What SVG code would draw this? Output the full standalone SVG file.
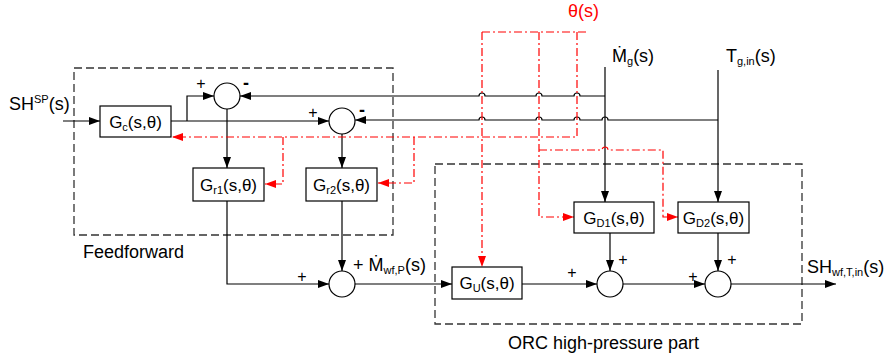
<svg xmlns="http://www.w3.org/2000/svg" width="895" height="362" viewBox="0 0 895 362">
<defs>
<marker id="ab" markerUnits="userSpaceOnUse" markerWidth="12" markerHeight="10" refX="11" refY="5" orient="auto"><path d="M0,1 L11,5 L0,9 Z" fill="#000"/></marker>
<marker id="ar" markerUnits="userSpaceOnUse" markerWidth="12" markerHeight="10" refX="11" refY="5" orient="auto"><path d="M0,1 L11,5 L0,9 Z" fill="#ff0000"/></marker>
<style>
text{font-family:"Liberation Sans",Arial,sans-serif;font-size:18px;fill:#000}
.box{fill:#fff;stroke:#000;stroke-width:1.2}
.sum{fill:#fff;stroke:#000;stroke-width:1.2}
.ln{fill:none;stroke:#000;stroke-width:1.2}
.arr{marker-end:url(#ab)}
.red{fill:none;stroke:#ff0000;stroke-width:1.2;stroke-dasharray:8,3,2,3}
.rarr{marker-end:url(#ar)}
.grp{fill:none;stroke:#333;stroke-width:1.3;stroke-dasharray:8,4}
.sign{font-size:16px;text-anchor:middle;dominant-baseline:central}
.minus{font-size:18px;font-weight:bold;text-anchor:middle;dominant-baseline:central}
.lbl{text-anchor:middle;font-size:17px}
.sub{font-size:11px}
</style>
</defs>

<g id="groups">
<rect id="feedforward" class="grp" x="74" y="68" width="319" height="167"/>
<rect id="orc" class="grp" x="435" y="164" width="367" height="160"/>
<text x="83" y="258">Feedforward</text>
<text x="508" y="349">ORC high-pressure part</text>
</g>

<g id="connectors">
<path class="ln arr" d="M63,121 H100"/>
<path class="ln arr" d="M171,121 H329"/>
<path class="ln arr" d="M187,121 V96 H214"/>
<path class="ln arr" d="M605,96 H580 A3,3 0 0 0 574,96 H542 A3,3 0 0 0 536,96 H485 A3,3 0 0 0 479,96 H240"/>
<path class="ln arr" d="M718,120 H608 A3,3 0 0 0 602,120 H580 A3,3 0 0 0 574,120 H542 A3,3 0 0 0 536,120 H485 A3,3 0 0 0 479,120 H355"/>
<path class="ln arr" d="M227,109 V168"/>
<path class="ln arr" d="M342,134 V168"/>
<path class="ln arr" d="M227,201 V284 H329"/>
<path class="ln arr" d="M342,201 V271"/>
<path class="ln arr" d="M355,284 H452"/>
<path class="ln arr" d="M522,284 H597"/>
<path class="ln arr" d="M623,284 H705"/>
<path class="ln arr" d="M731,284 H836"/>
<path class="ln arr" d="M605,67 V202"/>
<path class="ln arr" d="M610,233 V271"/>
<path class="ln arr" d="M718,70 V202"/>
<path class="ln arr" d="M718,233 V271"/>

<path class="red" d="M482,32 H588"/>
<path class="red rarr" d="M482,32 V267"/>
<path class="red rarr" d="M539,32 V217 H574"/>
<path class="red rarr" d="M577,32 V137 H172"/>
<path class="red rarr" d="M539,150 H602 A3,3 0 0 1 608,150 H663 V217 H678"/>
<path class="red rarr" d="M283,137 V184 H265"/>
<path class="red rarr" d="M414,137 V183 H378"/>
</g>

<g id="Gc"><rect class="box" x="100" y="106" width="71" height="31"/><text class="lbl" x="135.5" y="128">G<tspan class="sub" dy="3">c</tspan><tspan dy="-3">(s,θ)</tspan></text></g>
<g id="Gr1"><rect class="box" x="193" y="168" width="71" height="33"/><text class="lbl" x="228.5" y="191">G<tspan class="sub" dy="3">r1</tspan><tspan dy="-3">(s,θ)</tspan></text></g>
<g id="Gr2"><rect class="box" x="306" y="168" width="71" height="33"/><text class="lbl" x="341.5" y="191">G<tspan class="sub" dy="3">r2</tspan><tspan dy="-3">(s,θ)</tspan></text></g>
<g id="GU"><rect class="box" x="452" y="267" width="70" height="32"/><text class="lbl" x="487" y="289">G<tspan class="sub" dy="3">U</tspan><tspan dy="-3">(s,θ)</tspan></text></g>
<g id="GD1"><rect class="box" x="574" y="202" width="80" height="31"/><text class="lbl" x="614" y="224">G<tspan class="sub" dy="3">D1</tspan><tspan dy="-3">(s,θ)</tspan></text></g>
<g id="GD2"><rect class="box" x="678" y="202" width="71" height="31"/><text class="lbl" x="713.5" y="224">G<tspan class="sub" dy="3">D2</tspan><tspan dy="-3">(s,θ)</tspan></text></g>

<g id="sum1"><circle class="sum" cx="227" cy="96" r="13"/><text class="sign" x="201" y="83">+</text><text class="minus" x="246" y="83">-</text></g>
<g id="sum2"><circle class="sum" cx="342" cy="121" r="13"/><text class="sign" x="313" y="112">+</text><text class="minus" x="362" y="110">-</text></g>
<g id="sum3"><circle class="sum" cx="342" cy="284" r="13"/><text class="sign" x="302" y="276">+</text></g>
<g id="sum4"><circle class="sum" cx="610" cy="284" r="13"/><text class="sign" x="572" y="272">+</text><text class="sign" x="623" y="259">+</text></g>
<g id="sum5"><circle class="sum" cx="718" cy="284" r="13"/><text class="sign" x="693" y="276">+</text><text class="sign" x="732" y="259">+</text></g>

<g id="labels">
<text x="9" y="110">SH<tspan class="sub" dy="-7">SP</tspan><tspan dy="7">(s)</tspan></text>
<text x="568" y="17" style="fill:#ff0000">θ(s)</text>
<text x="612" y="62">Ṁ<tspan class="sub" dy="3">g</tspan><tspan dy="-3">(s)</tspan></text>
<text x="726" y="62">T<tspan class="sub" dy="3">g,in</tspan><tspan dy="-3">(s)</tspan></text>
<text x="353" y="271">+ Ṁ<tspan class="sub" dy="3">wf,P</tspan><tspan dy="-3">(s)</tspan></text>
<text x="807" y="273">SH<tspan class="sub" dy="3">wf,T,in</tspan><tspan dy="-3">(s)</tspan></text>
</g>
</svg>
